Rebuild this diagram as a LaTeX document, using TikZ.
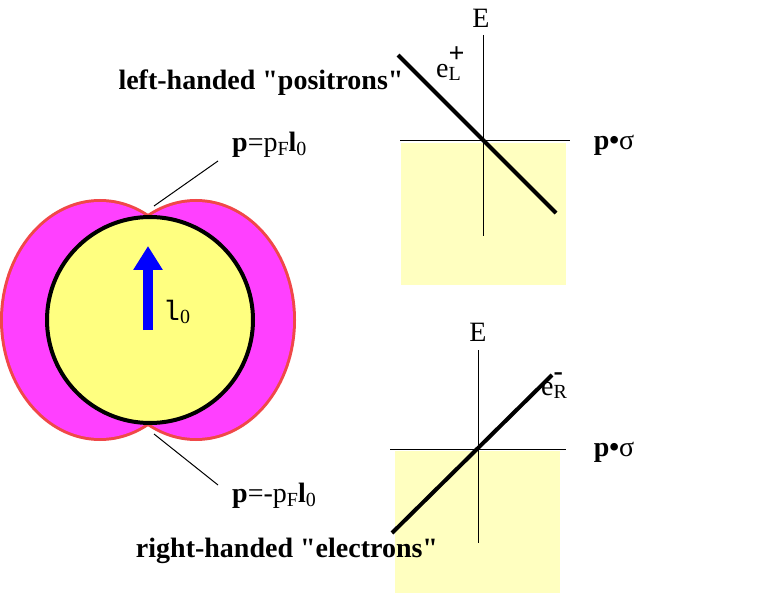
\documentclass[tikz,border=0pt]{standalone}
\usepackage{fontspec}
\setmainfont{Liberation Serif}
\setmonofont{Liberation Mono}
\usetikzlibrary{arrows.meta}
\definecolor{mag}{HTML}{FF40FF}
\definecolor{rd}{HTML}{F04848}
\definecolor{ylw}{HTML}{FFFF80}
\definecolor{pale}{HTML}{FFFFC0}
\newcommand{\sbs}[1]{\raisebox{-0.3ex}{\fontsize{20}{24}\selectfont #1}}
\begin{document}
\begin{tikzpicture}[x=1pt,y=-1pt,
  lbl/.style={inner sep=0pt,font=\fontsize{28}{32}\selectfont},
  thin/.style={line width=1pt},
  thick2/.style={line width=4pt},
  area/.style={fill=pale,draw=none}]
\useasboundingbox (0,0) rectangle (781,593);
% left shape
\fill[draw=rd,line width=6pt] (100,320) ellipse [x radius=97,y radius=118] (196,320) ellipse [x radius=97,y radius=118];
\fill[mag] (100,320) ellipse [x radius=97,y radius=118] (196,320) ellipse [x radius=97,y radius=118];
\node[circle,minimum size=206pt,fill=ylw,draw=black,line width=4pt] (c) at (150,320) {};
\coordinate (a1) at (148,330);
\coordinate (a2) at (148,246);
\draw[blue,line width=10pt,-{Triangle[length=24pt,width=28pt]}] (a1) -- (a2);
\node[lbl,anchor=west] (l0) at (163,312) {\texttt{l}\sbs{0}};
\node[lbl,anchor=west] (ptop) at (232,145) {\textbf{p}=p\sbs{F}\textbf{l}\sbs{0}};
\node[lbl,anchor=west] (pbot) at (232,496) {\textbf{p}=-p\sbs{F}\textbf{l}\sbs{0}};
\coordinate (t1) at (154,206);
\coordinate (b1) at (154,434);
\coordinate (t2) at (218,161);
\coordinate (b2) at (218,485);
\draw[thin] (t1) -- (t2);
\draw[thin] (b1) -- (b2);
% top plot
\fill[area] (401,143) rectangle (566,285);
\coordinate (ev1) at (483,35); \coordinate (ev2) at (483,236);
\coordinate (eh1) at (400,141); \coordinate (eh2) at (570,141);
\draw[thin] (ev1) -- (ev2);
\draw[thin] (eh1) -- (eh2);
\coordinate (d1) at (398,55); \coordinate (d2) at (556,213);
\draw[thick2] (d1) -- (d2);
\node[lbl] (E1) at (481,18) {E};
\node[lbl,anchor=west] (el) at (436,64) {e\rlap{\raisebox{1.1ex}{\textbf{+}}}\sbs{L}};
\node[lbl] (ps1) at (614,145) {\textbf{p•}σ};
\node[lbl] (lh) at (261,83) {\textbf{left-handed \textquotedbl positrons\textquotedbl}};
% bottom plot
\fill[area] (395,451) rectangle (560,593);
\coordinate (fv1) at (478,350); \coordinate (fv2) at (478,543);
\coordinate (fh1) at (390,449); \coordinate (fh2) at (566,449);
\draw[thin] (fv1) -- (fv2);
\draw[thin] (fh1) -- (fh2);
\coordinate (g1) at (392,533); \coordinate (g2) at (552,375);
\draw[thick2] (g1) -- (g2);
\node[lbl] (E2) at (478,332) {E};
\node[lbl,anchor=west] (er) at (541,386) {e\rlap{\raisebox{1.1ex}{\textbf{-}}}\sbs{R}};
\node[lbl] (ps2) at (614,452) {\textbf{p•}σ};
\node[lbl] (rh) at (287,551) {\textbf{right-handed \textquotedbl electrons\textquotedbl}};
\end{tikzpicture}
\end{document}
